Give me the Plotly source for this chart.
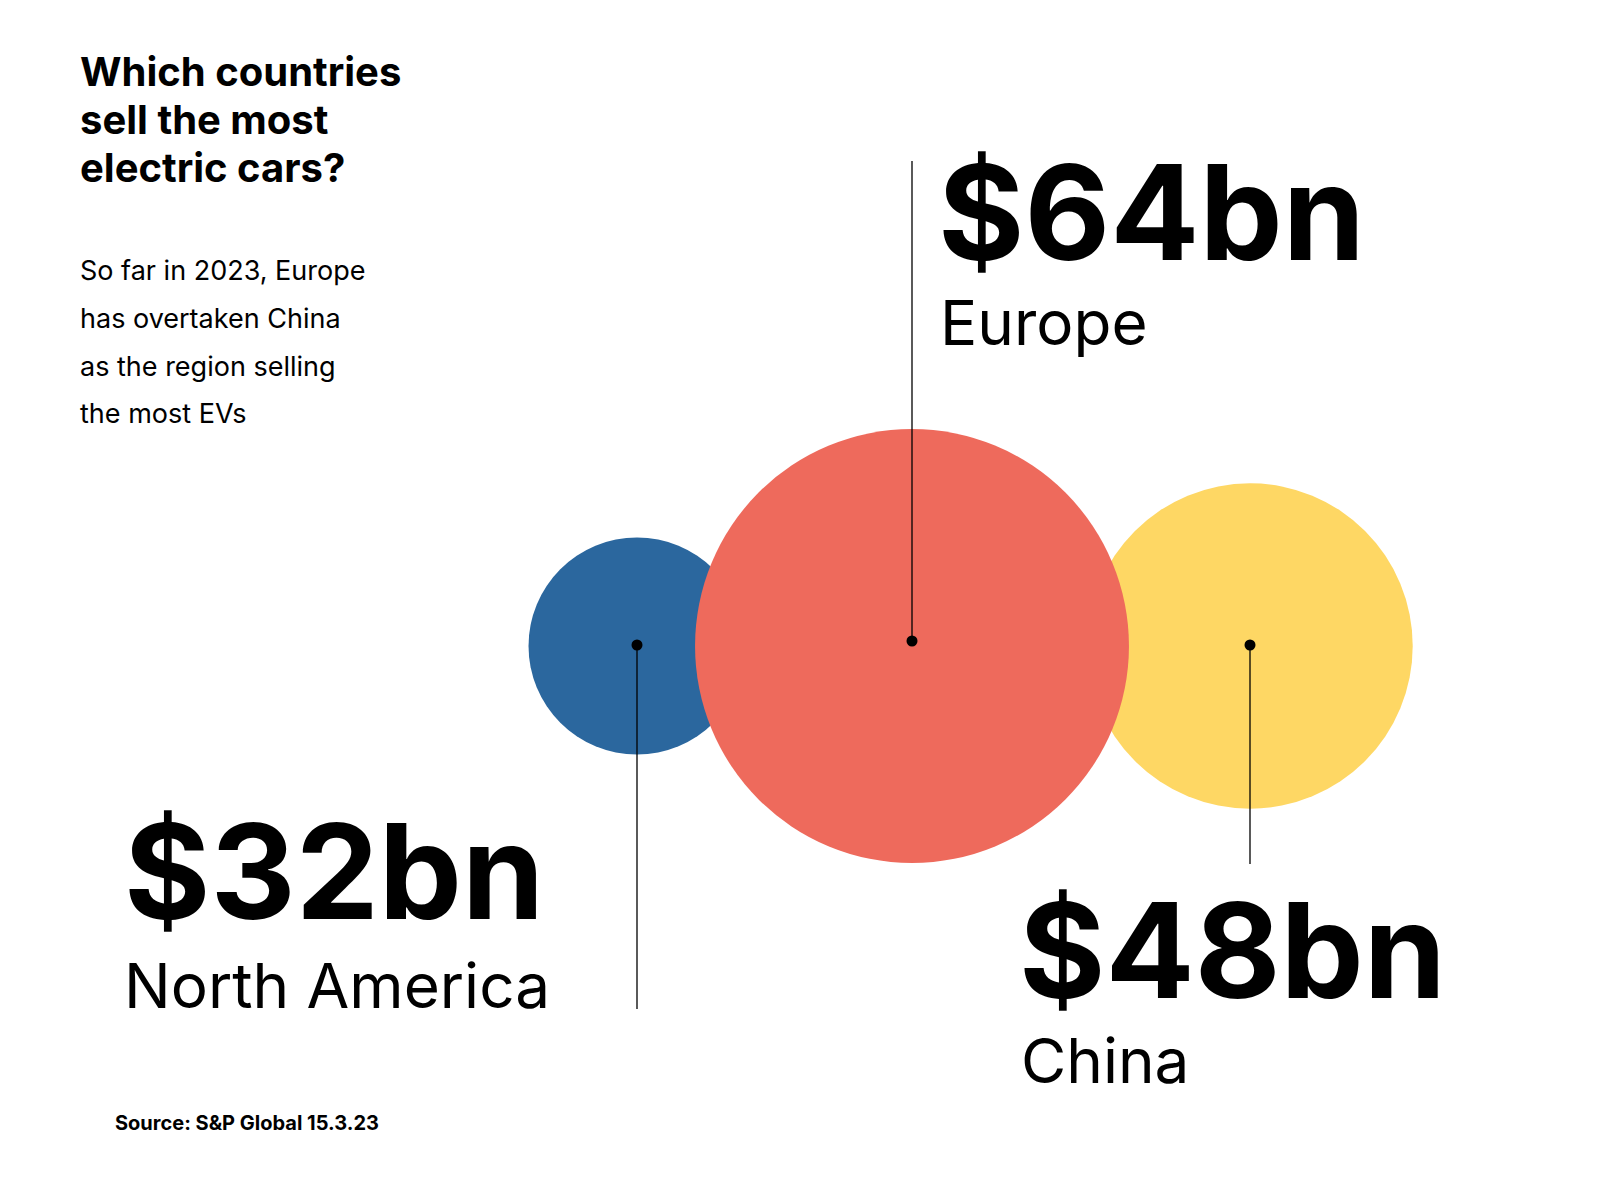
import plotly.graph_objects as go

regions = ["North America", "Europe", "China"]
values = [32, 64, 48]
labels = ["$32bn", "$64bn", "$48bn"]
colors = ["#2b679e", "#ee6a5c", "#fed764"]

# layout (pixel positions)
cx = [629, 904, 1242]
cy = [638, 638, 638]
px_per_unit = 6.78
line_end = [1001, 153, 856]
dot_y = [637, 633, 637]

fig = go.Figure()
for i in [0, 2, 1]:
    fig.add_trace(go.Scatter(x=[cx[i]], y=[cy[i]], mode="markers",
        marker=dict(size=values[i] * px_per_unit, color=colors[i], line=dict(width=0), opacity=1),
        hoverinfo="skip", showlegend=False))
for i in range(3):
    fig.add_trace(go.Scatter(x=[cx[i], cx[i]], y=[dot_y[i], line_end[i]], mode="lines",
        line=dict(color="black", width=1.3), showlegend=False, hoverinfo="skip"))
    fig.add_trace(go.Scatter(x=[cx[i]], y=[dot_y[i]], mode="markers",
        marker=dict(size=11, color="black"), showlegend=False, hoverinfo="skip"))

F = "Inter, Roboto, sans-serif"
def txt(x, y, s, size, bold=False, anchor="left"):
    fig.add_annotation(x=x, y=y, xref="x", yref="y", text=(f"<b>{s}</b>" if bold else s),
        showarrow=False, xanchor=anchor, yanchor="middle",
        font=dict(family=F, size=size, color="black"))

txt(70, 63, "Which countries", 40, True)
txt(70, 111, "sell the most", 40, True)
txt(70, 159, "electric cars?", 40, True)
for y, s in zip([262, 310, 358, 405], ["So far in 2023, Europe", "has overtaken China",
                                       "as the region selling", "the most EVs"]):
    txt(70, y, s, 27)

big = [(114, 863), (928, 204), (1009, 942)]
lab = [(114, 977), (930, 314), (1011, 1052)]
for i in range(3):
    txt(big[i][0], big[i][1], labels[i], 132, True)
    txt(lab[i][0], lab[i][1], regions[i], 62)
txt(105, 1115, "Source: S&P Global 15.3.23", 20, True)

fig.update_layout(width=1600, height=1200, margin=dict(l=0, r=0, t=0, b=0),
    paper_bgcolor="white", plot_bgcolor="white",
    xaxis=dict(range=[0, 1600], visible=False, fixedrange=True),
    yaxis=dict(range=[1200, 0], visible=False, fixedrange=True))
fig.write_html("out.html")
